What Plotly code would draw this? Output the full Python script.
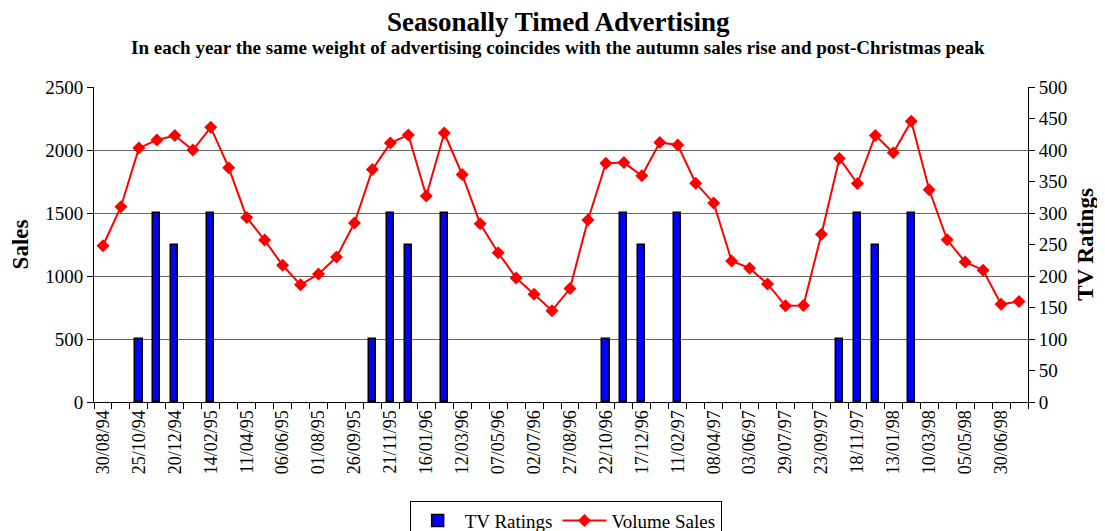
import plotly.graph_objects as go
from datetime import date, timedelta

# Data
start = date(1994, 8, 30)
dates = [(start + timedelta(days=28 * i)).strftime("%d/%m/%y") for i in range(52)]

sales = [1240, 1550, 2015, 2080, 2115, 2000, 2180, 1860, 1465, 1285,
         1085, 930, 1015, 1150, 1420, 1845, 2055, 2120, 1635, 2135,
         1805, 1415, 1185, 985, 855, 725, 900, 1445, 1895, 1900,
         1795, 2060, 2040, 1737, 1580, 1120, 1062, 937, 763, 765,
         1332, 1933, 1734, 2116, 1978, 2228, 1684, 1287, 1112, 1046,
         776, 797]

tv_bursts = {2: 100, 3: 300, 4: 250, 6: 300,
             15: 100, 16: 300, 17: 250, 19: 300,
             28: 100, 29: 300, 30: 250, 32: 300,
             41: 100, 42: 300, 43: 250, 45: 300}
tv = [tv_bursts.get(i) for i in range(len(dates))]

x = list(range(len(dates)))
FONT = "Liberation Serif, Times New Roman, serif"

fig = go.Figure()
fig.add_trace(go.Bar(
    x=x, y=tv, name="TV Ratings", yaxis="y2", width=0.4,
    marker=dict(color="#0000FF", line=dict(color="black", width=1.5)),
))
fig.add_trace(go.Scatter(
    x=x, y=sales, name="Volume Sales", mode="lines+markers",
    line=dict(color="#FF0000", width=2),
    marker=dict(symbol="diamond", size=10, color="#FF0000"),
))

# page body has an 8px margin, so the figure is 8px smaller and margins shifted
fig.update_layout(
    width=1097, height=523,
    margin=dict(l=86, r=77, t=79, b=129, autoexpand=False),
    paper_bgcolor="white", plot_bgcolor="white",
    font=dict(family=FONT, size=19, color="black"),
    showlegend=True,
    legend=dict(
        orientation="h", x=0.505, xanchor="center", y=-0.313, yanchor="top",
        bordercolor="black", borderwidth=1, font=dict(size=19),
        tracegroupgap=0, itemwidth=44,
    ),
    annotations=[
        dict(text="<b>Seasonally Timed Advertising</b>", x=0.497, y=1.206,
             xref="paper", yref="paper", xanchor="center", yanchor="middle",
             showarrow=False, font=dict(family=FONT, size=27)),
        dict(text="<b>In each year the same weight of advertising coincides with "
                  "the autumn sales rise and post-Christmas peak</b>",
             x=0.497, y=1.124, xref="paper", yref="paper", xanchor="center",
             yanchor="middle", showarrow=False, font=dict(family=FONT, size=19)),
    ],
    xaxis=dict(
        range=[-0.5, 51.5], tickmode="array", tickvals=x[::2], ticktext=dates[::2],
        tickangle=-90, ticks="", showgrid=False, zeroline=False,
        showline=True, linecolor="black", linewidth=1,
        tickfont=dict(size=18), automargin=False,
        minor=dict(tickmode="array", tickvals=[i - 0.5 for i in range(53)],
                   ticks="outside", ticklen=6, tickcolor="black", showgrid=False),
    ),
    yaxis=dict(
        range=[0, 2500], dtick=500, title=dict(text="<b>Sales</b>", standoff=12),
        showgrid=True, gridcolor="#666666", gridwidth=1,
        showline=True, linecolor="black", linewidth=1, automargin=False,
        ticks="outside", ticklen=6, tickcolor="black", zeroline=False,
        tickfont=dict(size=19),
    ),
    yaxis2=dict(
        range=[0, 500], dtick=50, overlaying="y", side="right",
        title=dict(text="<b>TV Ratings</b>", standoff=10),
        showgrid=False, showline=True, linecolor="black", linewidth=1,
        ticks="outside", ticklen=6, tickcolor="black", zeroline=False,
        tickfont=dict(size=19), automargin=False,
    ),
    bargap=0,
)

fig.write_html("out.html")
